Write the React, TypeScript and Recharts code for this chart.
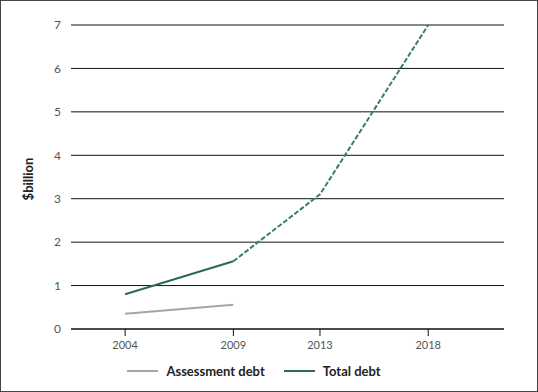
import React from 'react';
import { LineChart, Line, XAxis, YAxis, CartesianGrid, Legend } from 'recharts';

const years = [2004, 2009, 2013, 2018];
const assessmentDebt = [0.35, 0.56, null, null];
const totalDebt = [0.8, 1.56, null, null];
const totalDebtProjected = [null, 1.56, 3.1, 7.0];
const yTicks = [0, 1, 2, 3, 4, 5, 6, 7];

const data = years.map((year, i) => ({
  year,
  assessment: assessmentDebt[i],
  total: totalDebt[i],
  projected: totalDebtProjected[i],
}));

const FONT = 'Lato, "Open Sans", sans-serif';

const renderLegend = ({ payload }: any) => (
  <div style={{ display: 'flex', justifyContent: 'center', alignItems: 'center', height: 24, gap: 19, paddingRight: 6 }}>
    {(payload || [])
      .filter((entry: any) => entry.type !== 'none' && entry.dataKey !== 'projected')
      .map((entry: any) => (
        <div key={entry.value} style={{ display: 'flex', alignItems: 'center' }}>
          <span style={{ display: 'inline-block', width: 31, height: 2, background: entry.color, marginRight: 8 }} />
          <span style={{ fontFamily: FONT, fontWeight: 700, fontSize: 13, color: '#222' }}>{entry.value}</span>
        </div>
      ))}
  </div>
);

const renderYLabel = ({ viewBox }: any) => {
  const cx = viewBox.x + 18;
  const cy = viewBox.y + viewBox.height / 2 + 2;
  return (
    <text
      x={cx}
      y={cy}
      transform={`rotate(-90, ${cx}, ${cy})`}
      textAnchor="middle"
      dominantBaseline="central"
      fontFamily={FONT}
      fontWeight={700}
      fontSize={13}
      fill="#222"
    >
      $billion
    </text>
  );
};

export default function App() {
  return (
    <div
      style={{
        position: 'absolute',
        left: 0,
        top: 0,
        width: 538,
        height: 392,
        boxSizing: 'border-box',
        border: '1px solid #444',
        background: '#fff',
      }}
    >
      <LineChart
        width={536}
        height={390}
        data={data}
        margin={{ top: 24, right: 33, bottom: 4, left: 9 }}
      >
        <CartesianGrid horizontal vertical={false} stroke="#111" strokeWidth={1} />
        <XAxis
          dataKey="year"
          type="number"
          domain={[2001.5, 2021.5]}
          ticks={years}
          axisLine={{ stroke: '#111' }}
          tickLine={{ stroke: '#111' }}
          tickSize={7}
          tickMargin={5}
          height={30}
          tick={{ fill: '#555', fontSize: 11, fontFamily: FONT }}
        />
        <YAxis
          domain={[0, 7]}
          ticks={yTicks}
          width={61}
          axisLine={false}
          tickLine={false}
          tickSize={0}
          tickMargin={10}
          tick={{ fill: '#555', fontSize: 12, fontFamily: FONT }}
          label={{ content: renderYLabel }}
        />
        <Legend verticalAlign="bottom" content={renderLegend} wrapperStyle={{ height: 28 }} />
        <Line
          dataKey="assessment"
          name="Assessment debt"
          stroke="#a6a6a6"
          strokeWidth={2}
          dot={false}
          isAnimationActive={false}
        />
        <Line
          dataKey="total"
          name="Total debt"
          stroke="#2e6b4c"
          strokeWidth={2}
          dot={false}
          isAnimationActive={false}
        />
        <Line
          dataKey="projected"
          name="Total debt (projected)"
          legendType="none"
          stroke="#3a7d68"
          strokeWidth={2}
          strokeDasharray="5 2"
          dot={false}
          isAnimationActive={false}
        />
      </LineChart>
    </div>
  );
}
